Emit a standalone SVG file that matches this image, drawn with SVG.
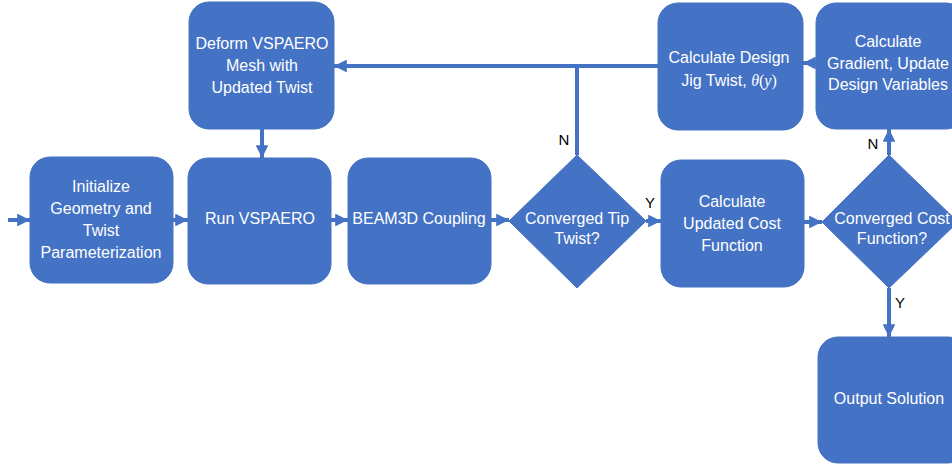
<svg xmlns="http://www.w3.org/2000/svg" width="952" height="465" viewBox="0 0 952 465">
<style>
.box{fill:#4472C4;stroke:#4472C4;stroke-width:1}
.t{font-family:"Liberation Sans",Arial,sans-serif;font-size:16px;fill:#fff;text-anchor:middle}
.lbl{font-family:"Liberation Sans",Arial,sans-serif;font-size:15px;fill:#000;text-anchor:middle}
.c{stroke:#4472C4;stroke-width:4;fill:none}
</style>
<defs>
<marker id="ah" viewBox="0 0 10 10" refX="10" refY="5" markerWidth="3.2" markerHeight="3.2" orient="auto" markerUnits="strokeWidth">
<path d="M0,0 L10,5 L0,10 z" fill="#4472C4"/>
</marker>
</defs>
<rect width="952" height="465" fill="#fff"/>
<g id="connectors">
<line class="c" x1="8" y1="220" x2="30" y2="220" marker-end="url(#ah)"/>
<line class="c" x1="173" y1="220" x2="188" y2="220" marker-end="url(#ah)"/>
<line class="c" x1="331" y1="220" x2="348" y2="220" marker-end="url(#ah)"/>
<line class="c" x1="491" y1="220" x2="509" y2="220" marker-end="url(#ah)"/>
<line class="c" x1="646" y1="221" x2="661" y2="221" marker-end="url(#ah)"/>
<line class="c" x1="804" y1="222" x2="822" y2="222" marker-end="url(#ah)"/>
<line class="c" x1="262" y1="129" x2="262" y2="158" marker-end="url(#ah)"/>
<line class="c" x1="658" y1="66" x2="334" y2="66" marker-end="url(#ah)"/>
<line class="c" x1="577" y1="155" x2="577" y2="66"/>
<line class="c" x1="816" y1="63" x2="803" y2="63" marker-end="url(#ah)"/>
<line class="c" x1="889" y1="155" x2="889" y2="129" marker-end="url(#ah)"/>
<line class="c" x1="889" y1="288" x2="889" y2="337" marker-end="url(#ah)"/>
</g>
<g id="n_init">
<rect class="box" x="30" y="157" width="143" height="126" rx="20"/>
<text class="t" x="101" y="192">Initialize</text>
<text class="t" x="101" y="214">Geometry and</text>
<text class="t" x="101" y="236">Twist</text>
<text class="t" x="101" y="258">Parameterization</text>
</g>
<g id="n_run">
<rect class="box" x="188" y="158" width="143" height="126" rx="20"/>
<text class="t" x="260" y="224">Run VSPAERO</text>
</g>
<g id="n_deform">
<rect class="box" x="189" y="2" width="145" height="127" rx="20"/>
<text class="t" x="262" y="49">Deform VSPAERO</text>
<text class="t" x="262" y="71">Mesh with</text>
<text class="t" x="262" y="93">Updated Twist</text>
</g>
<g id="n_beam">
<rect class="box" x="348" y="158" width="143" height="126" rx="20"/>
<text class="t" x="419" y="224">BEAM3D Coupling</text>
</g>
<g id="n_tip">
<polygon class="box" points="577,155 646,221 577,288 509,221"/>
<text class="t" x="577" y="224">Converged Tip</text>
<text class="t" x="577" y="244">Twist?</text>
</g>
<g id="n_cost">
<rect class="box" x="661" y="160" width="143" height="127" rx="20"/>
<text class="t" x="732" y="207">Calculate</text>
<text class="t" x="732" y="229">Updated Cost</text>
<text class="t" x="732" y="251">Function</text>
</g>
<g id="n_conv">
<polygon class="box" points="889,155 958,222 889,288 822,222"/>
<text class="t" x="892" y="224">Converged Cost</text>
<text class="t" x="892" y="244">Function?</text>
</g>
<g id="n_out">
<rect class="box" x="818" y="337" width="150" height="126" rx="20"/>
<text class="t" x="889" y="404">Output Solution</text>
</g>
<g id="n_jig">
<rect class="box" x="658" y="3" width="145" height="127" rx="20"/>
<text class="t" x="729" y="63">Calculate Design</text>
<text class="t" x="729" y="86">Jig Twist, <tspan font-family="'Liberation Serif',serif" font-style="italic">θ</tspan><tspan font-family="'Liberation Serif',serif">(</tspan><tspan font-family="'Liberation Serif',serif" font-style="italic">y</tspan><tspan font-family="'Liberation Serif',serif">)</tspan></text>
</g>
<g id="n_grad">
<rect class="box" x="816" y="3" width="150" height="126" rx="20"/>
<text class="t" x="888" y="47">Calculate</text>
<text class="t" x="888" y="69">Gradient, Update</text>
<text class="t" x="888" y="90">Design Variables</text>
</g>
<g id="labels">
<text class="lbl" x="564" y="145">N</text>
<text class="lbl" x="650" y="208">Y</text>
<text class="lbl" x="873" y="149">N</text>
<text class="lbl" x="900" y="308">Y</text>
</g>
</svg>
